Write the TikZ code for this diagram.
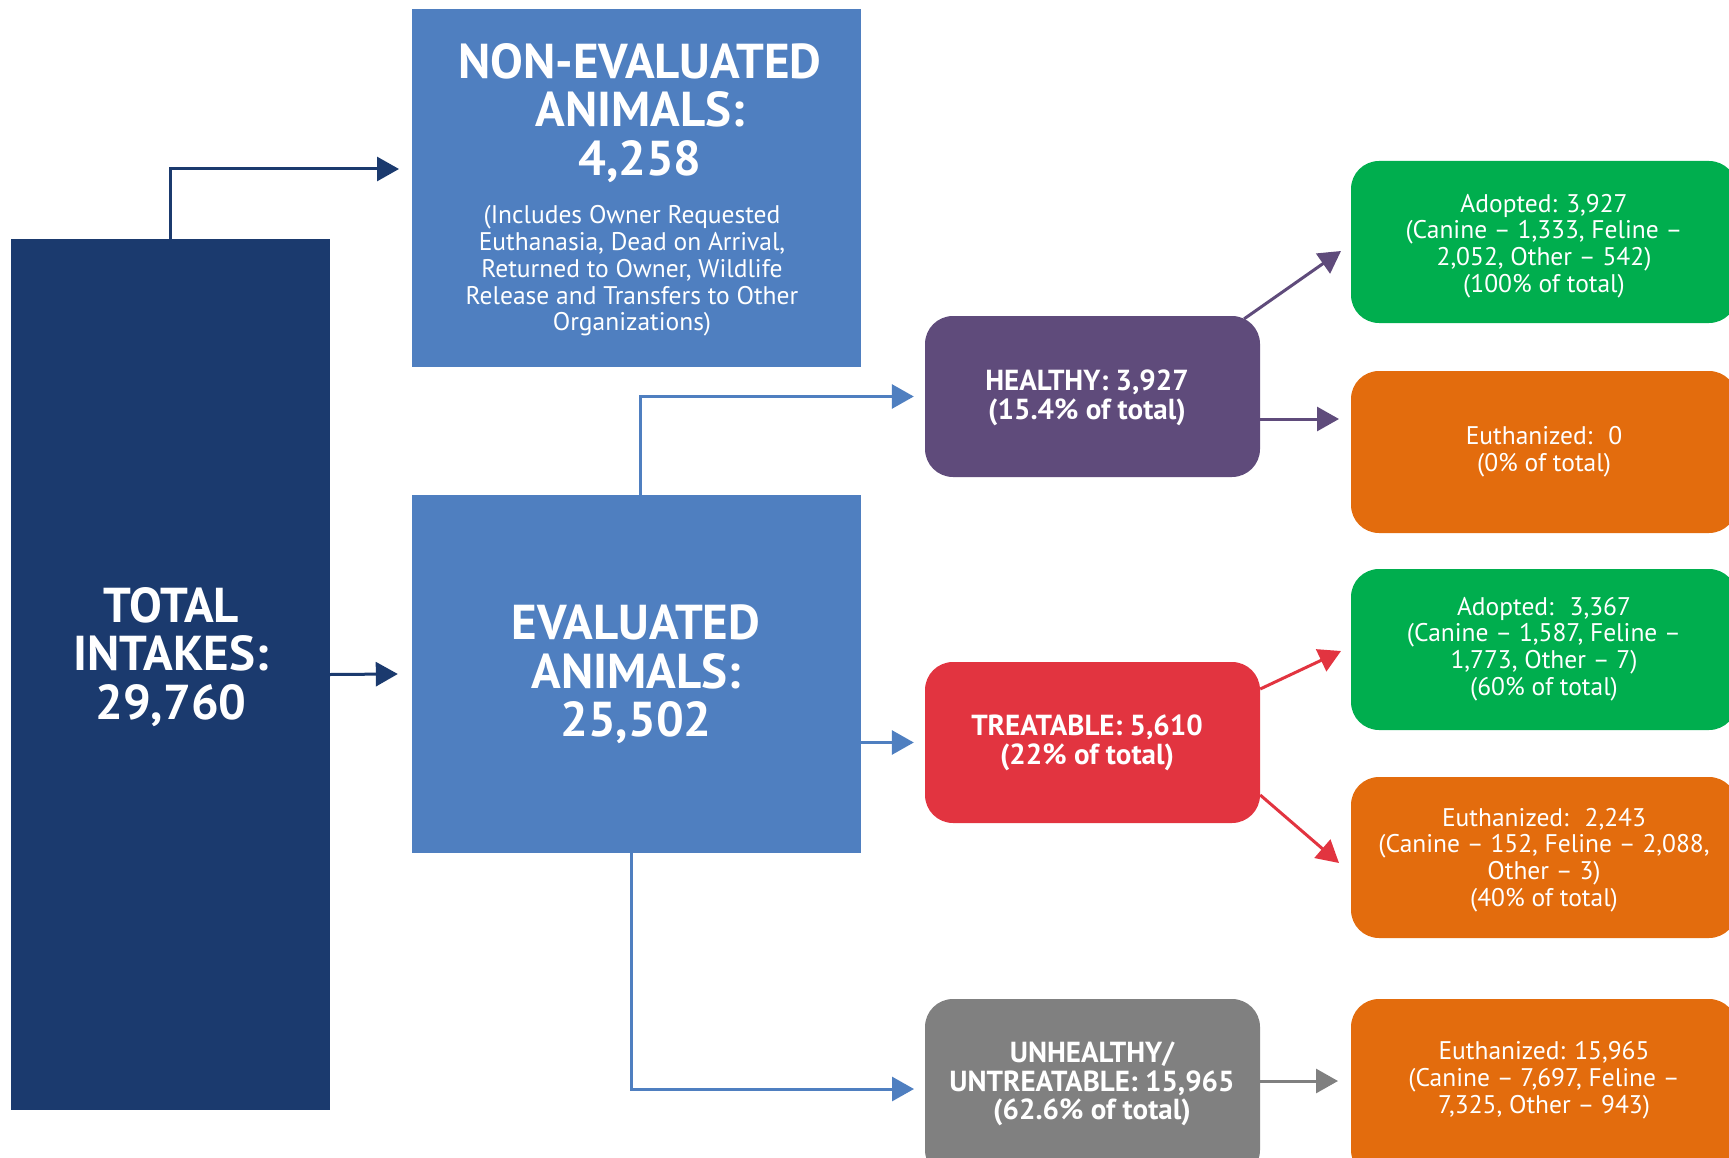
\documentclass[tikz,border=0pt]{standalone}
\usepackage{fontspec}
\setmainfont{PT Sans}
\usetikzlibrary{arrows.meta}
\definecolor{cnavy}{RGB}{27,58,110}
\definecolor{cblue}{RGB}{79,127,192}
\definecolor{cpurple}{RGB}{95,75,123}
\definecolor{cred}{RGB}{226,52,64}
\definecolor{cgray}{RGB}{128,128,128}
\definecolor{cgreen}{RGB}{0,174,78}
\definecolor{corange}{RGB}{227,108,13}
\tikzset{
  sqbox/.style={rectangle, inner sep=0pt, draw=none},
  rbox/.style={rectangle, rounded corners=28pt, inner sep=0pt, draw=none},
  bigtxt/.style={text=white, align=center, inner sep=0pt, yshift=-3pt, font=\fontsize{49}{48.5}\selectfont\bfseries},
  midtxt/.style={text=white, align=center, inner sep=0pt, yshift=-3pt, font=\fontsize{29}{28.7}\selectfont\bfseries},
  smalltxt/.style={text=white, align=center, inner sep=0pt, yshift=-3pt, font=\fontsize{25.5}{26.8}\selectfont},
  conn/.style={line width=3pt, draw=#1, -{Triangle[length=22pt,width=24pt,fill=#1]}},
}
\begin{document}
\begin{tikzpicture}[x=1pt,y=-1pt]
\useasboundingbox (0,0) rectangle (1729,1158);
\clip (0,0) rectangle (1729,1158);
% boxes
\node[sqbox, fill=cnavy, minimum width=319pt, minimum height=871pt] (total) at (170.5,674.5) {};
\node[sqbox, fill=cblue, minimum width=449pt, minimum height=358pt] (noneval) at (636.5,188) {};
\node[sqbox, fill=cblue, minimum width=449pt, minimum height=358pt] (eval) at (636.5,674) {};
\node[rbox, fill=cpurple, minimum width=335pt, minimum height=161pt] (healthy) at (1092.5,396.5) {};
\node[rbox, fill=cred, minimum width=335pt, minimum height=161pt] (treat) at (1092.5,742.5) {};
\node[rbox, fill=cgray, minimum width=335pt, minimum height=179pt] (unh) at (1092.5,1088.5) {};
\node[rbox, fill=cgreen, minimum width=386pt, minimum height=162pt] (adopt1) at (1544,242) {};
\node[rbox, fill=corange, minimum width=386pt, minimum height=162pt] (euth1) at (1544,452) {};
\node[rbox, fill=cgreen, minimum width=386pt, minimum height=161pt] (adopt2) at (1544,649.5) {};
\node[rbox, fill=corange, minimum width=386pt, minimum height=161pt] (euth2) at (1544,857.5) {};
\node[rbox, fill=corange, minimum width=386pt, minimum height=179pt] (euth3) at (1544,1088.5) {};
% texts
\node[bigtxt] (totaltxt) at (171,654) {TOTAL\\INTAKES:\\29,760};
\node[bigtxt] (nonevaltxt) at (640,110) {NON-EVALUATED\\ANIMALS:\\4,258};
\node[smalltxt] (nonevalsub) at (632,268) {(Includes Owner Requested\\Euthanasia, Dead on Arrival,\\Returned to Owner, Wildlife\\Release and Transfers to Other\\Organizations)};
\node[bigtxt] (evaltxt) at (636,671.5) {EVALUATED\\ANIMALS:\\25,502};
\node[midtxt] (healthytxt) at (1087,395) {HEALTHY: 3,927\\(15.4\% of total)};
\node[midtxt] (treattxt) at (1087,740) {TREATABLE: 5,610\\(22\% of total)};
\node[midtxt] (unhtxt) at (1092,1081) {UNHEALTHY/\\UNTREATABLE: 15,965\\(62.6\% of total)};
\node[smalltxt] (adopt1txt) at (1544,243) {Adopted: 3,927\\(Canine – 1,333, Feline –\\2,052, Other – 542)\\(100\% of total)};
\node[smalltxt] (euth1txt) at (1544,449) {Euthanized:~ 0\\(0\% of total)};
\node[smalltxt] (adopt2txt) at (1544,646) {Adopted:~ 3,367\\(Canine – 1,587, Feline –\\1,773, Other – 7)\\(60\% of total)};
\node[smalltxt] (euth2txt) at (1544,857) {Euthanized:~ 2,243\\(Canine – 152, Feline – 2,088,\\Other – 3)\\(40\% of total)};
\node[smalltxt] (euth3txt) at (1544,1077) {Euthanized: 15,965\\(Canine – 7,697, Feline –\\7,325, Other – 943)};
% arrow tips
\coordinate (tNE) at (399,169);
\coordinate (tU) at (914,1089);
\coordinate (tA1) at (1341,251);
\coordinate (tE1) at (1339,419);
\coordinate (tA2) at (1341,651);
\coordinate (tE2) at (1339,863);
\coordinate (tE3) at (1338,1081);
% connectors
\draw[conn=cnavy] (total.north) |- (tNE);
\draw[conn=cnavy] (total.east) -- ([xshift=-14pt]eval.west);
\draw[conn=cblue] ([xshift=4pt]eval.north) |- ([xshift=-11pt]healthy.west);
\draw[conn=cblue] (eval.east |- treat.west) -- ([xshift=-11pt]treat.west);
\draw[conn=cblue] ([xshift=-5pt]eval.south) |- (tU);
\draw[conn=cpurple] ([xshift=-16pt,yshift=-3pt]healthy.north east) -- (tA1);
\draw[conn=cpurple] ([yshift=-22.5pt]healthy.east) -- (tE1);
\draw[conn=cred] ([yshift=53.5pt]treat.east) -- (tA2);
\draw[conn=cred] ([yshift=-52.5pt]treat.east) -- (tE2);
\draw[conn=cgray] ([yshift=7.5pt]unh.east) -- (tE3);
\end{tikzpicture}
\end{document}
